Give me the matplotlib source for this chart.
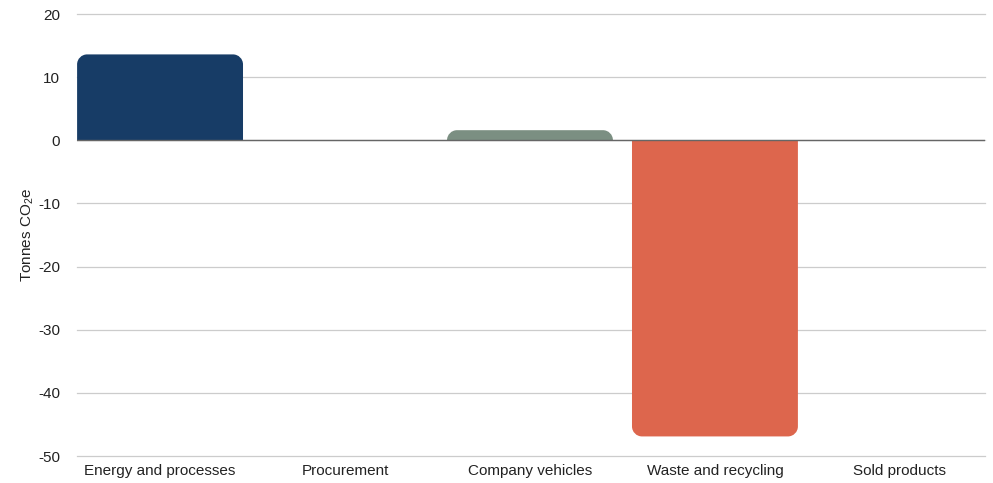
import matplotlib.pyplot as plt
from matplotlib.path import Path
from matplotlib.patches import PathPatch

plt.rcParams['font.family'] = ['Liberation Sans', 'DejaVu Sans']
plt.rcParams['mathtext.default'] = 'regular'

categories = ["Energy and processes", "Procurement", "Company vehicles",
              "Waste and recycling", "Sold products"]
values = [13.6, 0, 1.6, -46.9, 0]
colors = ["#173c66", "#9aa9a0", "#7b8f82", "#dd664d", "#cccccc"]
yticks = [20, 10, 0, -10, -20, -30, -40, -50]

W, H = 993, 483
fig = plt.figure(figsize=(W / 100, H / 100), dpi=100)
ax = fig.add_axes([77 / W, 1 - 456 / H, (985 - 77) / W, (456 - 14) / H])

xlim = (-0.449, 4.46)
ylim = (-50, 20)
ax.set_xlim(*xlim)
ax.set_ylim(*ylim)

# pixel size per data unit, used for rounded corners
px_x = (985 - 77) / (xlim[1] - xlim[0])
px_y = (456 - 14) / (ylim[1] - ylim[0])
r = 10
width = 0.897
k = 0.5523


def rounded_bar(x, v, w, color):
    x0, x1 = x - w / 2, x + w / 2
    s = 1 if v > 0 else -1
    rx = r / px_x
    ry = min(r / px_y, abs(v))
    top = v
    verts = [(x0, 0), (x0, top - s * ry),
             (x0, top - s * ry + s * ry * k), (x0 + rx - rx * k, top), (x0 + rx, top),
             (x1 - rx, top),
             (x1 - rx + rx * k, top), (x1, top - s * ry + s * ry * k), (x1, top - s * ry),
             (x1, 0), (x0, 0)]
    codes = [Path.MOVETO, Path.LINETO,
             Path.CURVE4, Path.CURVE4, Path.CURVE4,
             Path.LINETO,
             Path.CURVE4, Path.CURVE4, Path.CURVE4,
             Path.LINETO, Path.CLOSEPOLY]
    return PathPatch(Path(verts, codes), facecolor=color, edgecolor='none', zorder=3)


for i, (v, c) in enumerate(zip(values, colors)):
    if v != 0:
        ax.add_patch(rounded_bar(i, v, width, c))

ax.set_yticks(yticks)
ax.set_yticklabels([str(t) for t in yticks])
ax.set_xticks(range(len(categories)))
ax.set_xticklabels(categories)
ax.grid(axis='y', color='#cccccc', linewidth=0.9, zorder=0)
for gl in ax.get_ygridlines():
    gl.set_clip_on(False)
ax.axhline(0, color='#666666', linewidth=1, zorder=4)
for sp in ax.spines.values():
    sp.set_visible(False)
ax.tick_params(axis='both', length=0, labelsize=11, colors='#222222')
ax.tick_params(axis='y', pad=12)
ax.tick_params(axis='x', pad=6)
ax.set_ylabel("Tonnes CO$_2$e", fontsize=11, color='#222222', labelpad=2)

fig.savefig("out.png", dpi=100)
